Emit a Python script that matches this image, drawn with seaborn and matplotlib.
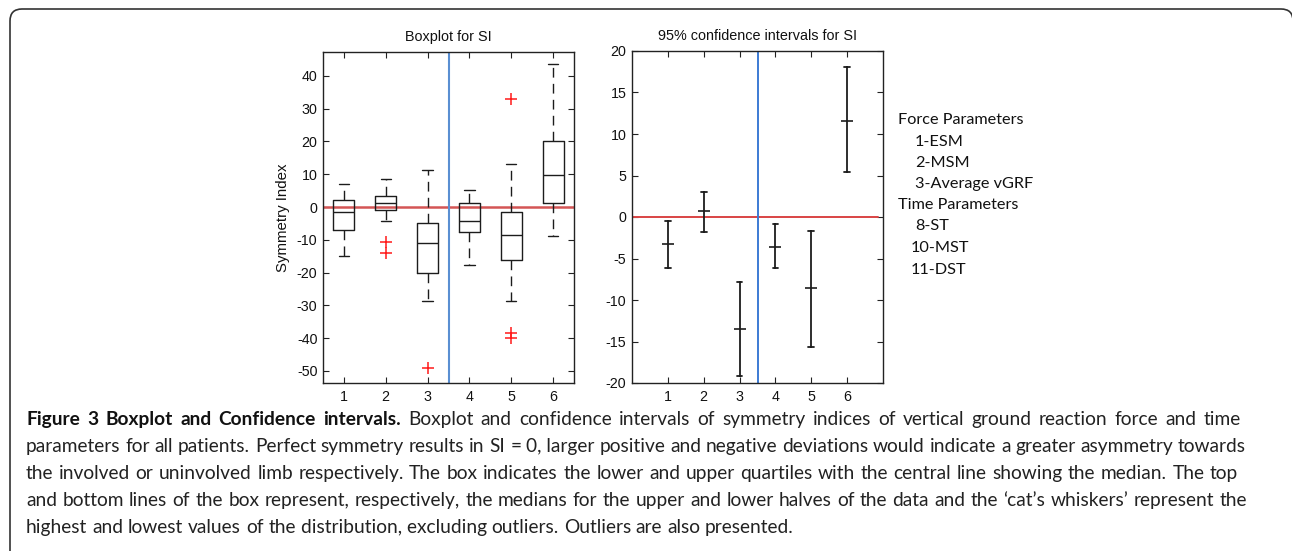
import numpy as np
import pandas as pd
import matplotlib
matplotlib.use("Agg")
import matplotlib.pyplot as plt
import seaborn as sns
from matplotlib.patches import FancyBboxPatch
from matplotlib.transforms import IdentityTransform
from matplotlib.font_manager import FontProperties

# ---------------- data ----------------
groups = [1, 2, 3, 4, 5, 6]
whisker_low = [-14.8, -4.3, -28.7, -17.8, -28.7, -8.9]
quartile_1 = [-6.9, -0.8, -20.2, -7.6, -16.2, 1.1]
medians = [-1.6, 1.1, -11.0, -4.2, -8.6, 9.7]
quartile_3 = [2.1, 3.5, -4.9, 1.1, -1.6, 20.2]
whisker_high = [6.9, 8.5, 11.3, 5.2, 13.0, 43.6]
outlier_group = [2, 2, 3, 5, 5, 5]
outlier_value = [-10.7, -14.0, -49.2, 33.0, -38.3, -39.9]

ci_mean = [-3.2, 0.7, -13.45, -3.65, -8.6, 11.6]
ci_low = [-6.1, -1.8, -19.1, -6.2, -15.7, 5.4]
ci_high = [-0.5, 3.05, -7.8, -0.9, -1.65, 18.1]

y_ticks_box = [-50, -40, -30, -20, -10, 0, 10, 20, 30, 40]
y_ticks_ci = [-20, -15, -10, -5, 0, 5, 10, 15, 20]

legend_heads = ["Force Parameters", "Time Parameters"]
force_items = ["1-ESM", "2-MSM", "3-Average vGRF"]
time_items = ["8-ST", "10-MST", "11-DST"]

caption_bold = "Figure 3 Boxplot and Confidence intervals."
caption_lines = [
    "Boxplot and confidence intervals of symmetry indices of vertical ground reaction force and time",
    "parameters for all patients. Perfect symmetry results in SI = 0, larger positive and negative deviations would indicate a greater asymmetry towards",
    "the involved or uninvolved limb respectively. The box indicates the lower and upper quartiles with the central line showing the median. The top",
    "and bottom lines of the box represent, respectively, the medians for the upper and lower halves of the data and the \u2018cat\u2019s whiskers\u2019 represent the",
    "highest and lowest values of the distribution, excluding outliers. Outliers are also presented.",
]

# ---------------- style ----------------
sns.set_theme(style="ticks")
plt.rcParams["font.family"] = ["Liberation Sans", "DejaVu Sans"]
plt.rcParams["axes.edgecolor"] = "#222222"
plt.rcParams["axes.linewidth"] = 1.0

W, H = 1292, 551
fig = plt.figure(figsize=(W / 100, H / 100), dpi=100)
fig.patch.set_facecolor("white")

def fx(px):
    return px / W

def fy(py):
    return 1 - py / H

ax1 = fig.add_axes([fx(323), fy(383), fx(574) - fx(323), fy(52) - fy(383)])
ax2 = fig.add_axes([fx(632), fy(383), fx(883) - fx(632), fy(51) - fy(383)])

LINE = "#1c1c1c"

# ---------------- boxplot ----------------
box_df = pd.DataFrame({
    "param": np.repeat(groups, 5),
    "SI": np.ravel(np.column_stack([whisker_low, quartile_1, medians, quartile_3, whisker_high])),
})
sns.boxplot(
    data=box_df, x="param", y="SI", native_scale=True, whis=(0, 100),
    width=0.5, fill=False, color=LINE, linewidth=1.0,
    whiskerprops=dict(linestyle=(0, (7, 4.5)), color=LINE),
    capprops=dict(color=LINE), medianprops=dict(color=LINE),
    boxprops=dict(color=LINE),
    ax=ax1,
)
sns.scatterplot(x=outlier_group, y=outlier_value, marker="+", color="#ff1a1a",
                s=75, linewidth=1.1, ax=ax1, zorder=5)
ax1.axhline(0, color="#d45555", linewidth=1.8, zorder=1)
ax1.axvline(3.5, color="#5a8fd2", linewidth=1.5, zorder=1)
ax1.set_xlim(0.5, 6.5)
ax1.set_ylim(-53.7, 47.3)
ax1.set_xticks(groups)
ax1.set_xticklabels([str(g) for g in groups])
ax1.set_yticks(y_ticks_box)
ax1.set_yticklabels([str(t) for t in y_ticks_box])
ax1.set_xlabel("")
ax1.set_ylabel("Symmetry Index", fontsize=10.8, labelpad=5, color="#111111")
ax1.set_title("Boxplot for SI", fontsize=10.4, pad=8, color="#111111")

# ---------------- confidence intervals ----------------
ci_df = pd.DataFrame({
    "param": np.repeat(groups, 3),
    "SI": np.ravel(np.column_stack([ci_low, ci_mean, ci_high])),
})
sns.pointplot(
    data=ci_df, x="param", y="SI", native_scale=True,
    estimator="median", errorbar=("pi", 100),
    linestyle="none", marker="_", markersize=8.5, markeredgewidth=1.2,
    capsize=0.16, color=LINE, err_kws={"linewidth": 1.3},
    ax=ax2,
)
ax2.axhline(0, xmax=0.98, color="#d94444", linewidth=1.4, zorder=1)
ax2.axvline(3.5, color="#3c7bd4", linewidth=1.4, zorder=1)
ax2.set_xlim(0, 7)
ax2.set_ylim(-20, 20)
ax2.set_xticks(groups)
ax2.set_xticklabels([str(g) for g in groups])
ax2.set_yticks(y_ticks_ci)
ax2.set_yticklabels([str(t) for t in y_ticks_ci])
ax2.set_xlabel("")
ax2.set_ylabel("")
ax2.set_title("95% confidence intervals for SI", fontsize=10.4, pad=8, color="#111111")

for ax in (ax1, ax2):
    ax.tick_params(direction="in", top=True, right=True, length=4, width=0.8,
                   labelsize=10.3, colors="#222222", labelcolor="#111111")
    ax.tick_params(axis="x", pad=5)
    ax.tick_params(axis="y", pad=4)
    for s in ax.spines.values():
        s.set_visible(True)
        s.set_color("#222222")
        s.set_linewidth(1.0)

# ---------------- legend text ----------------
legend_font = ["Lato", "DejaVu Sans"]
leg_fs = 11.7
fig.text(fx(898), fy(120), legend_heads[0], family=legend_font, fontsize=leg_fs, va="center", color="#111111")
for i, item in enumerate(force_items):
    fig.text(fx(915), fy(141.5 + 21.2 * i), item, family=legend_font, fontsize=leg_fs, va="center", color="#111111")
fig.text(fx(898), fy(205), legend_heads[1], family=legend_font, fontsize=leg_fs, va="center", color="#111111")
time_x = [915, 911, 911]
for i, item in enumerate(time_items):
    fig.text(fx(time_x[i]), fy(226.5 + 21.6 * i), item, family=legend_font, fontsize=leg_fs, va="center", color="#111111")

# ---------------- caption (justified lines, baseline aligned) ----------------
cap_font = ["Lato", "DejaVu Sans"]
cap_fs = 13.75
line_baseline = [425, 452, 479, 506, 533]
line_right = [1241, 1246, 1238, 1247, None]
renderer = fig.canvas.get_renderer()
props = {wt: FontProperties(family=cap_font, size=cap_fs, weight=wt) for wt in ("normal", "bold")}

def chunk_width(text, weight):
    t = fig.text(0, 0, text, fontproperties=props[weight])
    w = t.get_window_extent(renderer=renderer).width
    t.remove()
    return w

def safe(text):
    # a chunk whose lowest glyph would be a comma is joined to the next word
    return ("," not in text) or any(c in text for c in "gjpqy")

space_w = chunk_width("a b", "normal") - chunk_width("ab", "normal")

for i, line in enumerate(caption_lines):
    words = []
    if i == 0:
        words += [(w, "bold") for w in caption_bold.split(" ")]
    words += [(w, "normal") for w in line.split(" ")]
    chunks = []
    for w, wt in words:
        if chunks and not safe(chunks[-1][0]) and chunks[-1][1] == wt:
            chunks[-1] = (chunks[-1][0] + " " + w, wt)
        else:
            chunks.append((w, wt))
    widths = [chunk_width(c, wt) for c, wt in chunks]
    if line_right[i] is None:
        gap = space_w
    else:
        natural_gaps = len(words) - 1
        extra = (line_right[i] - 26 - sum(widths) - space_w * (natural_gaps - (len(chunks) - 1))) / natural_gaps
        gap = space_w + extra
        gap = (line_right[i] - 26 - sum(widths)) / (len(chunks) - 1)
    x = 26.0
    for (c, wt), ww in zip(chunks, widths):
        fig.text(fx(x), fy(line_baseline[i]), c, fontproperties=props[wt], va="baseline",
                 color="#111111" if wt == "bold" else "#222222")
        x += ww + gap

# ---------------- rounded frame ----------------
frame = FancyBboxPatch((10, -40), 1283, H - 9 + 40, boxstyle="round,pad=0,rounding_size=12",
                       transform=IdentityTransform(), fill=False, edgecolor="#333333",
                       linewidth=1.2, clip_on=False)
fig.patches.append(frame)

fig.savefig("out.png", dpi=100)
